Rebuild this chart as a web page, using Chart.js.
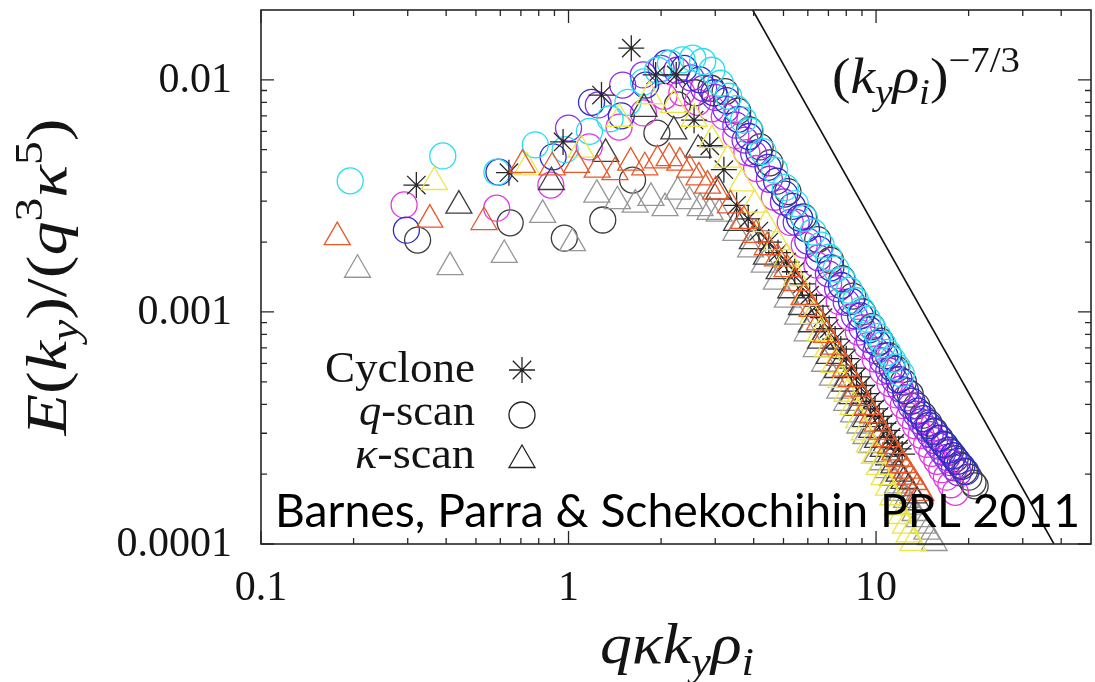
<!DOCTYPE html>
<html>
<head>
<meta charset="utf-8">
<script src="https://cdn.jsdelivr.net/npm/chart.js@4.4.1/dist/chart.umd.min.js"></script>
<style>
  html, body { margin: 0; padding: 0; background: #fff; }
  canvas { display: block; }
</style>
</head>
<body>
<canvas id="spectrum" width="1095" height="682"></canvas>
<script>
// Spectra E(ky)/(q^3 kappa^5) vs q*kappa*ky*rho_i

// Cyclone base case (asterisks)
const cycloneX = [0.32, 0.64, 0.96, 1.28, 1.6, 1.92, 2.24, 2.56, 2.88, 3.2, 3.52, 3.84, 4.16, 4.48, 4.8, 5.12, 5.44, 5.76, 6.08, 6.4, 6.72, 7.04, 7.36, 7.68, 8.0, 8.32, 8.64, 8.96, 9.28, 9.6, 9.92, 10.24, 10.56, 10.88, 11.2, 11.52, 11.84, 12.16];
const cycloneY = [0.00352, 0.00398, 0.0054, 0.0086, 0.0137, 0.0105, 0.0105, 0.0067, 0.0052, 0.0041, 0.00288, 0.00252, 0.00223, 0.002, 0.0018, 0.00164, 0.00149, 0.00132, 0.00118, 0.00106, 0.000945, 0.000848, 0.000764, 0.000692, 0.000629, 0.000573, 0.000525, 0.000482, 0.000445, 0.000412, 0.000382, 0.000355, 0.000331, 0.000309, 0.000289, 0.000272, 0.000257, 0.000244];

// q-scan (circles)
const cyanX = [0.195, 0.39, 0.585, 0.78, 0.975, 1.17, 1.365, 1.56, 1.755, 1.95, 2.145, 2.34, 2.535, 2.73, 2.925, 3.12, 3.315, 3.51, 3.705, 3.9, 4.29, 4.68, 5.07, 5.46, 5.85, 6.24, 6.63, 7.02, 7.41, 7.8, 8.19, 8.58, 8.97, 9.36, 9.75, 10.14, 10.53, 10.92, 11.31, 11.7, 12.09];
const cyanY = [0.00367, 0.0047, 0.004, 0.00525, 0.005, 0.006, 0.0068, 0.008, 0.0098, 0.011, 0.0118, 0.0122, 0.0124, 0.012, 0.011, 0.00967, 0.0085, 0.00752, 0.0067, 0.00601, 0.00491, 0.00408, 0.00344, 0.00293, 0.00253, 0.00221, 0.00194, 0.00172, 0.00153, 0.00137, 0.00124, 0.00112, 0.00102, 0.000931, 0.000853, 0.000785, 0.000724, 0.00067, 0.000622, 0.000579, 0.00054];

const blueX = [0.297, 0.594, 0.891, 1.188, 1.485, 1.782, 2.079, 2.376, 2.673, 2.97, 3.267, 3.564, 3.861, 4.158, 4.455, 4.752, 5.049, 5.346, 5.643, 5.94, 6.53, 7.13, 7.72, 8.32, 8.91, 9.5, 10.1, 10.69, 11.29, 11.88, 12.47, 13.07, 13.66, 14.26, 14.85, 15.44, 16.04, 16.63, 17.23, 17.82, 18.41, 19.01, 19.6];
const blueY = [0.00225, 0.004, 0.00466, 0.008, 0.007, 0.0095, 0.0118, 0.0112, 0.01, 0.0088, 0.00814, 0.00676, 0.0057, 0.00487, 0.0042, 0.00366, 0.00322, 0.00285, 0.00254, 0.00228, 0.00186, 0.00155, 0.0013, 0.00111, 0.000961, 0.000838, 0.000733, 0.000646, 0.000572, 0.000511, 0.000458, 0.000413, 0.000374, 0.000347, 0.000324, 0.000304, 0.000286, 0.000269, 0.000254, 0.00024, 0.000227, 0.000216, 0.000205];

const violetX = [1.0, 1.25, 1.5, 1.75, 2.0, 2.25, 2.5, 2.75, 3.0, 3.25, 3.5, 3.75, 4.0, 4.5, 5.0, 5.5, 6.0, 6.5, 7.0, 7.5, 8.0, 8.5, 9.0, 9.5, 10.0, 10.5, 11.0, 11.5, 12.0, 12.5, 13.0, 13.5, 14.0, 14.5, 15.0, 15.5, 16.0, 16.5, 17.0, 17.5, 18.0, 18.5];
const violetY = [0.0062, 0.0078, 0.0095, 0.0105, 0.0112, 0.011, 0.0102, 0.0092, 0.0084, 0.00747, 0.00638, 0.0055, 0.0048, 0.00373, 0.00298, 0.00243, 0.00202, 0.00171, 0.00146, 0.00126, 0.0011, 0.000963, 0.000853, 0.00076, 0.000681, 0.000615, 0.000558, 0.000508, 0.000465, 0.000426, 0.000393, 0.000363, 0.000336, 0.000315, 0.000296, 0.000279, 0.000264, 0.000249, 0.000236, 0.000224, 0.000213, 0.000203];

const magentaX = [0.292, 0.584, 0.876, 1.168, 1.46, 1.752, 2.044, 2.336, 2.628, 2.92, 3.21, 3.5, 3.8, 4.09, 4.67, 5.26, 5.84, 6.42, 7.01, 7.59, 8.18, 8.76, 9.34, 9.93, 10.51, 11.1, 11.68, 12.26, 12.85, 13.43, 14.02, 14.6, 15.18, 15.77, 16.35, 16.94, 17.52, 18.1];
const magentaY = [0.00289, 0.0028, 0.00352, 0.00514, 0.00626, 0.0072, 0.0085, 0.0088, 0.008, 0.0075, 0.00694, 0.00576, 0.00486, 0.00415, 0.00312, 0.00243, 0.00194, 0.00159, 0.00132, 0.00111, 0.000948, 0.000819, 0.000714, 0.000627, 0.000554, 0.000491, 0.000439, 0.000395, 0.000356, 0.000323, 0.000294, 0.000269, 0.000246, 0.000227, 0.000209, 0.000194, 0.00018, 0.000167];

const blackCircX = [0.323, 0.646, 0.969, 1.292, 1.615, 1.938, 2.261, 2.584, 2.907, 3.23, 3.55, 3.88, 4.2, 4.52, 5.17, 5.81, 6.46, 7.11, 7.75, 8.4, 9.04, 9.69, 10.34, 10.98, 11.63, 12.27, 12.92, 13.57, 14.21, 14.86, 15.5, 16.15, 16.8, 17.44, 18.09, 18.73, 19.38, 20.03, 20.67, 21.0];
const blackCircY = [0.00204, 0.00242, 0.00208, 0.00249, 0.0037, 0.0059, 0.0078, 0.0088, 0.0092, 0.0089, 0.00733, 0.00609, 0.00514, 0.00439, 0.0033, 0.00257, 0.00205, 0.00167, 0.00139, 0.00117, 0.001, 0.000865, 0.000748, 0.000648, 0.000567, 0.000499, 0.000442, 0.000394, 0.000359, 0.000332, 0.000307, 0.000285, 0.000266, 0.000249, 0.000233, 0.000219, 0.000206, 0.000194, 0.000183, 0.000178];

// kappa-scan (triangles)
const orangeX = [0.177, 0.354, 0.531, 0.708, 0.885, 1.062, 1.239, 1.416, 1.593, 1.77, 1.947, 2.124, 2.301, 2.478, 2.655, 2.832, 3.009, 3.363, 3.717, 4.071, 4.425, 4.779, 5.133, 5.487, 5.841, 6.195, 6.549, 6.903, 7.257, 7.611, 7.965, 8.319, 8.673, 9.027, 9.381, 9.735, 10.089, 10.443, 10.797, 11.151, 11.505, 11.859, 12.213, 12.567, 12.921, 13.275, 13.629, 13.983];
const orangeY = [0.0021, 0.0025, 0.00244, 0.0043, 0.0042, 0.0043, 0.0041, 0.004, 0.0044, 0.0042, 0.0045, 0.0046, 0.0044, 0.0041, 0.0038, 0.0035, 0.00331, 0.00288, 0.00247, 0.00215, 0.0019, 0.0017, 0.00153, 0.00133, 0.00116, 0.00103, 0.000901, 0.000796, 0.000709, 0.000634, 0.00057, 0.000514, 0.000467, 0.000426, 0.00039, 0.000358, 0.00033, 0.000305, 0.000283, 0.000265, 0.000248, 0.000233, 0.000219, 0.000207, 0.000195, 0.000185, 0.000175, 0.000166];

const grayX = [0.206, 0.412, 0.618, 0.824, 1.03, 1.236, 1.442, 1.648, 1.854, 2.06, 2.266, 2.472, 2.678, 2.884, 3.09, 3.5, 3.91, 4.33, 4.74, 5.15, 5.56, 5.97, 6.39, 6.8, 7.21, 7.62, 8.03, 8.45, 8.86, 9.27, 9.68, 10.09, 10.51, 10.92, 11.33, 11.74, 12.15, 12.57, 12.98, 13.39, 13.8, 14.21, 14.63, 15.04, 15.45];
const grayY = [0.00152, 0.00156, 0.00176, 0.00262, 0.00198, 0.0032, 0.003, 0.0029, 0.0031, 0.0028, 0.0033, 0.003, 0.0028, 0.0027, 0.00265, 0.00219, 0.00186, 0.0016, 0.00135, 0.00113, 0.000955, 0.000809, 0.000692, 0.000598, 0.000521, 0.000458, 0.000406, 0.000362, 0.000324, 0.000292, 0.000267, 0.000244, 0.000225, 0.000208, 0.000193, 0.000179, 0.000166, 0.000155, 0.000145, 0.000136, 0.000128, 0.00012, 0.000113, 0.000107, 0.000101];

const blackTriX = [0.44, 0.88, 1.32, 1.76, 2.2, 2.64, 3.08, 3.52, 3.96, 4.4, 4.84, 5.28, 5.72, 6.16, 6.6, 7.04, 7.48, 7.92, 8.36, 8.8, 9.24, 9.68, 10.12, 10.56, 11.0, 11.44, 11.88, 12.32, 12.76, 13.2, 13.64];
const blackTriY = [0.00287, 0.00363, 0.0048, 0.0075, 0.006, 0.005, 0.0033, 0.00242, 0.00202, 0.00173, 0.0015, 0.00124, 0.00105, 0.000885, 0.000752, 0.000647, 0.000562, 0.000491, 0.000434, 0.000386, 0.000345, 0.00031, 0.000281, 0.000257, 0.000236, 0.000218, 0.000201, 0.000187, 0.000174, 0.000162, 0.000151];

const yellowX = [0.366, 0.732, 1.098, 1.464, 1.83, 2.196, 2.562, 2.928, 3.294, 3.66, 4.026, 4.392, 4.758, 5.124, 5.49, 5.856, 6.222, 6.588, 6.954, 7.32, 7.686, 8.052, 8.418, 8.784, 9.15, 9.516, 9.882, 10.248, 10.614, 10.98, 11.346, 11.712, 12.078, 12.444, 12.81, 13.176];
const yellowY = [0.00363, 0.0042, 0.005, 0.0068, 0.0085, 0.0078, 0.0068, 0.0055, 0.00453, 0.00358, 0.0029, 0.00239, 0.002, 0.0017, 0.0014, 0.00115, 0.000962, 0.00081, 0.000689, 0.000591, 0.00051, 0.000444, 0.000389, 0.000342, 0.000303, 0.000269, 0.00024, 0.000215, 0.000194, 0.000175, 0.000159, 0.000144, 0.000132, 0.00012, 0.00011, 0.000101];

// reference slope (ky rho_i)^(-7/3), end points where it meets the frame
const slopeX = [3.97, 37.9];
const slopeY = [0.02, 0.0001];

// axes
const xRange = [0.1, 50];
const yRange = [0.0001, 0.02];
const xMajor = [0.1, 1, 10];
const xMajorLabels = ['0.1', '1', '10'];
const xMinor = [0.2, 0.3, 0.4, 0.5, 0.6, 0.7, 0.8, 0.9, 2, 3, 4, 5, 6, 7, 8, 9, 20, 30, 40];
const yMajor = [0.0001, 0.001, 0.01];
const yMajorLabels = ['0.0001', '0.001', '0.01'];
const yMinor = [0.0002, 0.0003, 0.0004, 0.0005, 0.0006, 0.0007, 0.0008, 0.0009, 0.002, 0.003, 0.004, 0.005, 0.006, 0.007, 0.008, 0.009];

const SERIF = '"Liberation Serif", "DejaVu Serif", serif';

function pts(xs, ys) {
    return xs.map((x, i) => ({ x: x, y: ys[i] }));
}

function marks(label, xs, ys, style, color, radius) {
    return {
        type: 'scatter',
        label: label,
        data: pts(xs, ys),
        pointStyle: style,
        pointRadius: radius,
        pointBorderColor: color,
        pointBackgroundColor: 'rgba(0,0,0,0)',
        pointBorderWidth: 1.3,
        clip: false,
    };
}

// rich text: segments {t, i (italic), s (-1 sub, 1 sup)}
function segFont(seg, size) {
    const sz = seg.s ? size * 0.7 : size;
    return (seg.i ? 'italic ' : '') + sz + 'px ' + SERIF;
}

function drawRich(ctx, segs, x, y, size, targetW, align) {
    let w = 0;
    segs.forEach(seg => {
        ctx.font = segFont(seg, size);
        seg.w = ctx.measureText(seg.t).width;
        w += seg.w;
    });
    const k = targetW ? targetW / w : 1;
    ctx.save();
    ctx.translate(x, y);
    ctx.scale(k, 1);
    let cx = align === 'center' ? -w / 2 : align === 'right' ? -w : 0;
    ctx.textAlign = 'left';
    ctx.textBaseline = 'alphabetic';
    segs.forEach(seg => {
        ctx.font = segFont(seg, size);
        const dy = seg.s === -1 ? size * 0.22 : seg.s === 1 ? -size * 0.42 : 0;
        ctx.fillText(seg.t, cx, dy);
        cx += seg.w;
    });
    ctx.restore();
}

const yTitle = [
    { t: 'E', i: 1 }, { t: '(' }, { t: 'k', i: 1 }, { t: 'y', i: 1, s: -1 }, { t: ')' },
    { t: '/' }, { t: '(' }, { t: 'q', i: 1 }, { t: '3', s: 1 }, { t: 'κ', i: 1 }, { t: '5', s: 1 }, { t: ')' },
];
const xTitle = [
    { t: 'q', i: 1 }, { t: 'κ', i: 1 }, { t: 'k', i: 1 }, { t: 'y', i: 1, s: -1 }, { t: 'ρ', i: 1 }, { t: 'i', i: 1, s: -1 },
];
const slopeText = [
    { t: '(' }, { t: 'k', i: 1 }, { t: 'y', i: 1, s: -1 }, { t: 'ρ', i: 1 }, { t: 'i', i: 1, s: -1 }, { t: ')' },
    { t: '−7/3', s: 1 },
];

function legendSymbol(ctx, kind, x, y) {
    ctx.beginPath();
    if (kind === 'star') {
        const r = 13;
        for (let a = 0; a < 4; a++) {
            const t = a * Math.PI / 4;
            ctx.moveTo(x - r * Math.cos(t), y - r * Math.sin(t));
            ctx.lineTo(x + r * Math.cos(t), y + r * Math.sin(t));
        }
    } else if (kind === 'circle') {
        ctx.arc(x, y, 13, 0, Math.PI * 2);
    } else {
        const r = 15;
        ctx.moveTo(x, y - r);
        ctx.lineTo(x + r * Math.sin(2 * Math.PI / 3), y - r * Math.cos(2 * Math.PI / 3));
        ctx.lineTo(x + r * Math.sin(4 * Math.PI / 3), y - r * Math.cos(4 * Math.PI / 3));
        ctx.closePath();
    }
    ctx.stroke();
}

// no extra room around the axes: the plot box sits where the figure has it
function fixBox(s, size) {
    if (s.isHorizontal()) s.height = size; else s.width = size;
    s.paddingLeft = 0;
    s.paddingRight = 0;
    s.paddingTop = 0;
    s.paddingBottom = 0;
}

const framePlugin = {
    id: 'frame',
    afterDraw(chart) {
        const ctx = chart.ctx;
        const a = chart.chartArea;
        const xs = chart.scales.x;
        const ys = chart.scales.y;
        ctx.save();

        // frame with inward ticks on all four sides
        ctx.strokeStyle = '#262626';
        ctx.lineWidth = 1.6;
        ctx.strokeRect(a.left, a.top, a.right - a.left, a.bottom - a.top);
        ctx.lineWidth = 1.3;
        ctx.beginPath();
        const tx = (v, len) => {
            const p = xs.getPixelForValue(v);
            ctx.moveTo(p, a.bottom); ctx.lineTo(p, a.bottom - len);
            ctx.moveTo(p, a.top); ctx.lineTo(p, a.top + len);
        };
        const ty = (v, len) => {
            const p = ys.getPixelForValue(v);
            ctx.moveTo(a.left, p); ctx.lineTo(a.left + len, p);
            ctx.moveTo(a.right, p); ctx.lineTo(a.right - len, p);
        };
        xMajor.forEach(v => tx(v, 13));
        xMinor.forEach(v => tx(v, 6));
        yMajor.forEach(v => ty(v, 13));
        yMinor.forEach(v => ty(v, 6));
        ctx.stroke();

        // tick labels
        ctx.fillStyle = '#141414';
        ctx.font = '42px ' + SERIF;
        ctx.textBaseline = 'alphabetic';
        ctx.textAlign = 'center';
        xMajor.forEach((v, i) => ctx.fillText(xMajorLabels[i], xs.getPixelForValue(v), 600));
        ctx.textAlign = 'right';
        yMajor.forEach((v, i) => ctx.fillText(yMajorLabels[i], 232, ys.getPixelForValue(v) + 12));

        // axis titles
        drawRich(ctx, xTitle, 677, 663, 56, 154, 'center');
        ctx.save();
        ctx.translate(66, 277);
        ctx.rotate(-Math.PI / 2);
        drawRich(ctx, yTitle, 0, 0, 56, 317, 'center');
        ctx.restore();

        // slope annotation
        drawRich(ctx, slopeText, 832, 93, 50, 188, 'left');

        // legend
        drawRich(ctx, [{ t: 'Cyclone' }], 475, 382, 44, 150, 'right');
        drawRich(ctx, [{ t: 'q', i: 1 }, { t: '-scan' }], 475, 425, 44, 116, 'right');
        drawRich(ctx, [{ t: 'κ', i: 1 }, { t: '-scan' }], 475, 468, 44, 120, 'right');
        ctx.strokeStyle = '#222';
        ctx.lineWidth = 1.3;
        legendSymbol(ctx, 'star', 522, 370);
        legendSymbol(ctx, 'circle', 522, 415);
        legendSymbol(ctx, 'triangle', 522, 460);

        // citation
        ctx.fillStyle = '#000';
        ctx.font = '47px Lato, "Open Sans", sans-serif';
        ctx.textAlign = 'left';
        ctx.fillText('Barnes, Parra & Schekochihin PRL 2011', 275, 527, 805);

        ctx.restore();
    }
};

new Chart(document.getElementById('spectrum'), {
    data: {
        datasets: [
            marks('κ-scan orange', orangeX, orangeY, 'triangle', 'rgb(232,88,40)', 15),
            marks('κ-scan yellow', yellowX, yellowY, 'triangle', 'rgb(236,230,70)', 15),
            marks('Cyclone', cycloneX, cycloneY, 'star', 'rgb(40,40,40)', 13),
            marks('κ-scan black', blackTriX, blackTriY, 'triangle', 'rgb(60,60,60)', 15),
            marks('κ-scan gray', grayX, grayY, 'triangle', 'rgb(150,150,150)', 15),
            marks('q-scan cyan', cyanX, cyanY, 'circle', 'rgb(40,222,238)', 13),
            marks('q-scan blue', blueX, blueY, 'circle', 'rgb(45,45,205)', 13),
            marks('q-scan violet', violetX, violetY, 'circle', 'rgb(140,45,235)', 13),
            marks('q-scan magenta', magentaX, magentaY, 'circle', 'rgb(228,55,228)', 13),
            marks('q-scan black', blackCircX, blackCircY, 'circle', 'rgb(60,60,60)', 13),
            {
                type: 'line',
                label: '(ky rho_i)^-7/3',
                data: pts(slopeX, slopeY),
                borderColor: '#111',
                borderWidth: 1.6,
                pointRadius: 0,
                fill: false,
            },
        ],
    },
    options: {
        responsive: false,
        devicePixelRatio: 1,
        animation: false,
        events: [],
        layout: { autoPadding: false, padding: { top: 10, right: 4, left: 0, bottom: 0 } },
        plugins: { legend: { display: false }, tooltip: { enabled: false } },
        scales: {
            x: {
                type: 'logarithmic',
                min: xRange[0],
                max: xRange[1],
                grid: { display: false },
                border: { display: false },
                ticks: { display: false },
                afterFit: s => fixBox(s, 138),
            },
            y: {
                type: 'logarithmic',
                min: yRange[0],
                max: yRange[1],
                grid: { display: false },
                border: { display: false },
                ticks: { display: false },
                afterFit: s => fixBox(s, 261),
            },
        },
    },
    plugins: [framePlugin],
});
</script>
</body>
</html>
